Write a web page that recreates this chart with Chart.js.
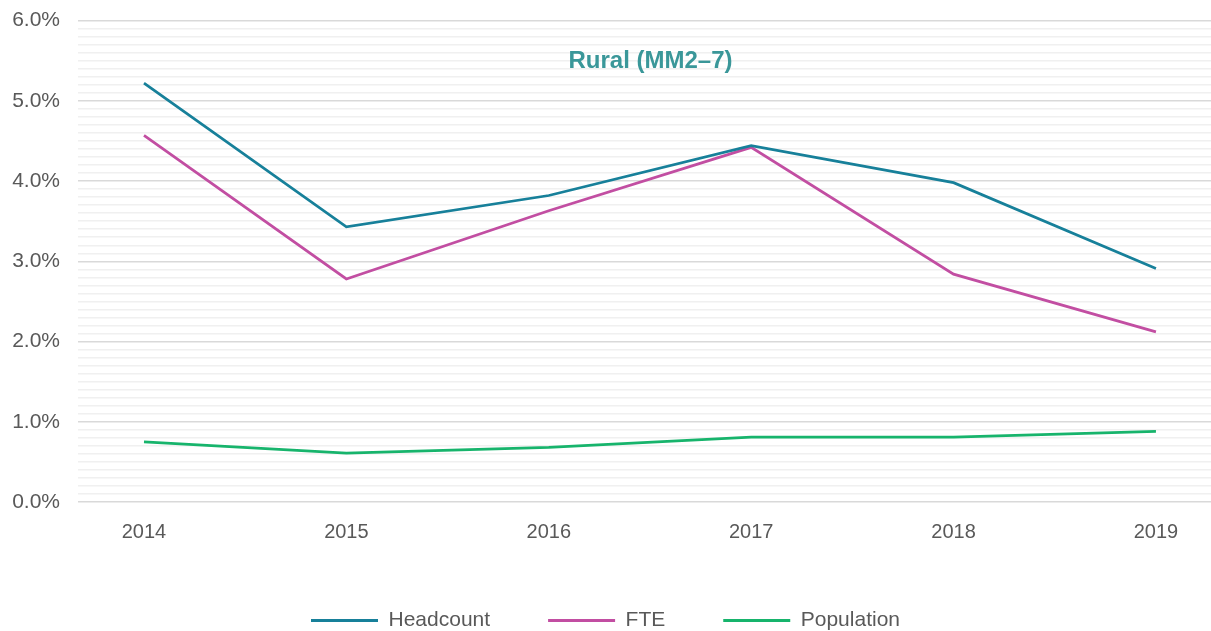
<!DOCTYPE html>
<html>
<head>
<meta charset="utf-8">
<script src="https://cdn.jsdelivr.net/npm/chart.js@4"></script>
<style>
  html, body { margin: 0; padding: 0; background: #fff; overflow: hidden; }
  #wrap { width: 1211px; height: 641px; margin-top: -10px; }
</style>
</head>
<body>
<div id="wrap"><canvas id="chart"></canvas></div>
<script>
const years = [2014, 2015, 2016, 2017, 2018, 2019];
const headcount = [5.22, 3.43, 3.82, 4.44, 3.98, 2.91];
const fte = [4.57, 2.78, 3.63, 4.42, 2.84, 2.12];
const population = [0.75, 0.61, 0.68, 0.81, 0.81, 0.88];
const chartTitle = "Rural (MM2\u20137)";

const textColor = "#595959";
const fontFamily = "'Liberation Sans', Arial, sans-serif";

function toPoints(values) {
  return values.map((v, i) => ({ x: years[i], y: v }));
}

function isMajor(v) {
  return Math.round(v * 10) % 10 === 0;
}

// title sits inside the plot area
const innerTitle = {
  id: "innerTitle",
  afterDraw(chart) {
    const { ctx, chartArea } = chart;
    ctx.save();
    ctx.font = "bold 24px " + fontFamily;
    ctx.fillStyle = "#3a9799";
    ctx.textAlign = "center";
    ctx.textBaseline = "middle";
    ctx.fillText(chartTitle, (chartArea.left + chartArea.right) / 2 + 6, chartArea.top + 41);
    ctx.restore();
  }
};

new Chart(document.getElementById("chart"), {
  type: "line",
  data: {
    datasets: [
      { label: "Headcount", data: toPoints(headcount), borderColor: "#17809a", backgroundColor: "#17809a" },
      { label: "FTE", data: toPoints(fte), borderColor: "#c24ea2", backgroundColor: "#c24ea2" },
      { label: "Population", data: toPoints(population), borderColor: "#17b46c", backgroundColor: "#17b46c" }
    ]
  },
  options: {
    responsive: true,
    maintainAspectRatio: false,
    animation: false,
    layout: { padding: { top: 0, right: 0, left: 0, bottom: -10 } },
    elements: {
      line: { borderWidth: 2.75, tension: 0 },
      point: { radius: 0, hoverRadius: 0 }
    },
    scales: {
      x: {
        type: "linear",
        min: 2013.674,
        max: 2019.272,
        afterBuildTicks: (axis) => { axis.ticks = years.map((y) => ({ value: y })); },
        afterFit: (axis) => { axis.height = 50; },
        grid: { display: false },
        border: { display: false },
        ticks: {
          color: textColor,
          font: { family: fontFamily, size: 20 },
          padding: 10,
          maxRotation: 0,
          callback: (v) => String(v)
        }
      },
      y: {
        min: 0,
        max: 6,
        afterBuildTicks: (axis) => {
          const t = [];
          for (let i = 0; i <= 60; i++) t.push({ value: i / 10 });
          axis.ticks = t;
        },
        afterFit: (axis) => { axis.width = 78; },
        border: { display: false },
        grid: {
          drawTicks: false,
          color: (ctx) => (isMajor(ctx.tick.value) ? "#d9d9d9" : "#f0f0f0"),
          lineWidth: 1.5
        },
        ticks: {
          color: textColor,
          font: { family: fontFamily, size: 21 },
          padding: 18,
          autoSkip: false,
          callback: (v) => (isMajor(v) ? v.toFixed(1) + "%" : "")
        }
      }
    },
    plugins: {
      legend: {
        position: "bottom",
        labels: {
          color: textColor,
          font: { family: fontFamily, size: 21 },
          boxWidth: 67,
          boxHeight: 3,
          padding: 58,
          generateLabels: (chart) => {
            const items = Chart.defaults.plugins.legend.labels.generateLabels(chart);
            items.forEach((it) => { it.lineWidth = 0; });
            return items;
          }
        }
      },
      tooltip: { enabled: false }
    }
  },
  plugins: [innerTitle]
});
</script>
</body>
</html>
